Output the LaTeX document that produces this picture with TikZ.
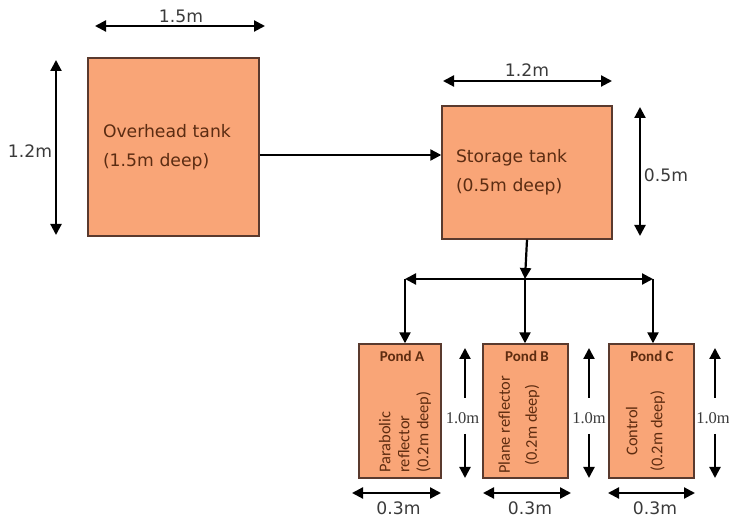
\documentclass[tikz,border=0pt]{standalone}
\usepackage{fontspec}
\setmainfont{DejaVu Sans}
\newfontfamily\pondfont{Carlito}
\newfontfamily\numfont{Liberation Serif}
\usetikzlibrary{arrows.meta}

\definecolor{tankfill}{HTML}{F9A577}
\definecolor{tankedge}{HTML}{5A3A2E}
\definecolor{tanktext}{HTML}{5B2C12}
\definecolor{pondtext}{HTML}{5E2C10}
\definecolor{dimtext}{HTML}{3A3A3A}

\tikzset{
  tip/.tip={Triangle[length=11pt,width=11pt]},
  tank/.style={draw=tankedge, fill=tankfill, line width=1.4pt, rectangle, inner sep=0pt},
  tanklabel/.style={text=tanktext, align=left, font=\fontsize{17.2}{29}\selectfont},
  flow/.style={line width=2.2pt, -tip},
  splitline/.style={line width=2.2pt, tip-tip},
  dimarrow/.style={line width=2.2pt, tip-tip},
  halfdim/.style={line width=2.2pt, -tip},
  dimlabel/.style={text=dimtext, inner sep=0pt, font=\fontsize{17.2}{19}\selectfont},
  pondlabel/.style={text=dimtext, inner sep=0pt, font=\numfont\fontsize{16.5}{18}\selectfont},
  pondtitle/.style={text=pondtext, inner sep=0pt, font=\pondfont\bfseries\fontsize{15}{17}\selectfont},
  pondnote/.style={text=pondtext, inner sep=0pt, rotate=90, font=\pondfont\fontsize{16.4}{22}\selectfont},
}

\begin{document}
\begin{tikzpicture}[x=1pt, y=-1pt]
\useasboundingbox (0,0) rectangle (729,518);

% tanks
\node[tank, tanklabel, minimum width=171pt, minimum height=178pt, text width=141pt]
  (overhead) at (173.5,147) {Overhead tank\\(1.5m deep)};
\node[tank, tanklabel, minimum width=170pt, minimum height=133pt, text width=142pt]
  (storage) at (527,172.5) {Storage tank\\(0.5m deep)};

% ponds
\node[tank, minimum width=82pt, minimum height=134pt] (pondA) at (400,411) {};
\node[tank, minimum width=85pt, minimum height=134pt] (pondB) at (525.5,411) {};
\node[tank, minimum width=85pt, minimum height=134pt] (pondC) at (651.5,411) {};

\node[pondtitle] (pondAname) at (402,356) {Pond A};
\node[pondtitle] (pondBname) at (527,356) {Pond B};
\node[pondtitle] (pondCname) at (652,356) {Pond C};

\node[pondnote, align=left, font=\pondfont\fontsize{16.4}{19}\selectfont] (pondAnote) at (405,432) {Parabolic\\reflector\\(0.2m deep)};
\node[pondnote, align=center, font=\pondfont\fontsize{16.4}{27}\selectfont] (pondBnote) at (519,425) {Plane reflector\\(0.2m deep)};
\node[pondnote, align=center, font=\pondfont\fontsize{16.4}{25}\selectfont] (pondCnote) at (645.5,431) {Control\\(0.2m deep)};

% pipework
\draw[flow] (overhead.east |- 0,155) -- (storage.west |- 0,155);
\coordinate (split) at (525,279);
\coordinate (splitL) at (405,279);
\coordinate (splitR) at (653,279);
\draw[flow] (storage.south) -- (split);
\draw[splitline] (splitL) -- (splitR);
\draw[flow] (splitL) -- (splitL |- pondA.north);
\draw[flow] (split) -- (split |- pondB.north);
\draw[flow] (splitR) -- (splitR |- pondC.north);

% tank dimensions
\coordinate (ohW1) at (95,26);  \coordinate (ohW2) at (265,26);
\draw[dimarrow] (ohW1) -- (ohW2);
\node[dimlabel] (ohWlabel) at (181,16) {1.5m};

\coordinate (ohH1) at (56,60);  \coordinate (ohH2) at (56,235);
\draw[dimarrow] (ohH1) -- (ohH2);
\node[dimlabel] (ohHlabel) at (30,151) {1.2m};

\coordinate (stW1) at (443,81); \coordinate (stW2) at (612,81);
\draw[dimarrow] (stW1) -- (stW2);
\node[dimlabel] (stWlabel) at (527,70) {1.2m};

\coordinate (stH1) at (640,107); \coordinate (stH2) at (640,236);
\draw[dimarrow] (stH1) -- (stH2);
\node[dimlabel] (stHlabel) at (666,175) {0.5m};

% pond heights
\foreach \p/\x/\lx in {A/465/462.5, B/589/589, C/715/713}{
  \node[pondlabel] (h\p label) at (\lx,418) {1.0m};
  \coordinate (h\p top) at (\x,348);
  \coordinate (h\p mid1) at (\x,398);
  \coordinate (h\p mid2) at (\x,434);
  \coordinate (h\p bot) at (\x,478);
  \draw[halfdim] (h\p mid1) -- (h\p top);
  \draw[halfdim] (h\p mid2) -- (h\p bot);
}

% pond widths
\foreach \p/\a/\b/\lx in {A/352/441/398.5, B/483/571/530, C/608/695/655}{
  \coordinate (w\p 1) at (\a,493);
  \coordinate (w\p 2) at (\b,493);
  \draw[dimarrow] (w\p 1) -- (w\p 2);
  \node[dimlabel] (w\p label) at (\lx,508) {0.3m};
}
\end{tikzpicture}
\end{document}
